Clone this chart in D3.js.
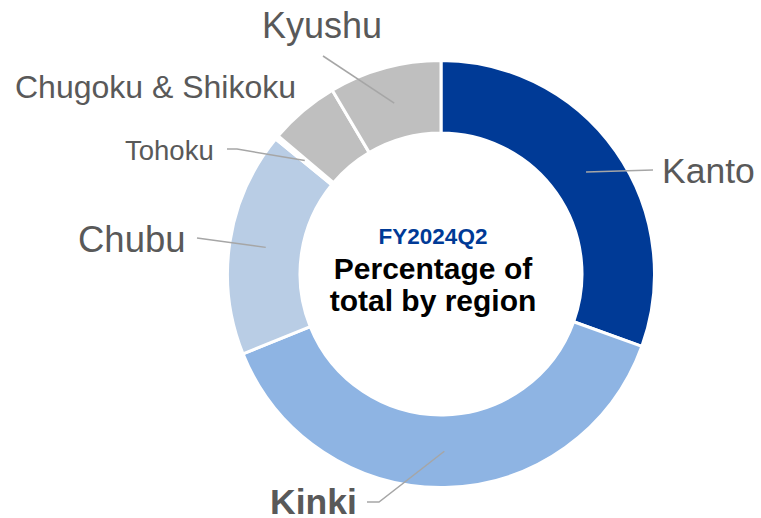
<!DOCTYPE html>
<html>
<head>
<meta charset="utf-8">
<script src="https://cdn.jsdelivr.net/npm/d3@7"></script>
<style>
  html, body { margin: 0; padding: 0; background: #fff; }
  #box1 { width: 761px; height: 518px; }
  text { font-family: Arial, "Liberation Sans", sans-serif; }
</style>
</head>
<body>
<div id="box1"><svg id="box1_svg"></svg></div>
<script>
"use strict";

// data (share of total, %), clockwise from 12 o'clock
const regions = ['Kanto', 'Kinki', 'Chubu', 'Tohoku', 'Chugoku & Shikoku', 'Kyushu'];
const shares = [30.5, 38.4, 17.0, 0.3, 5.3, 8.5];
const title_lines = ['FY2024Q2', 'Percentage of', 'total by region'];

// styles
const colors = ['#003a96', '#8eb4e3', '#b9cde5', '#ffffff', '#bfbfbf', '#bfbfbf'];

// label layout: text position plus elbow points of the leader line
// (the leader always ends on the slice centroid)
const label_layout = {
  'Kanto':             { x: 662, y: 183, size: 35.5, weight: 'normal', bend: [[653, 170]] },
  'Kinki':             { x: 270, y: 514, size: 35.5, weight: 'bold',   bend: [[367, 502], [379, 502]] },
  'Chubu':             { x: 78,  y: 252, size: 36.5, weight: 'normal', bend: [[197, 238]] },
  'Tohoku':            { x: 125, y: 160, size: 27.5, weight: 'normal', bend: [[227, 149], [237, 149]] },
  'Chugoku & Shikoku': { x: 15,  y: 98,  size: 32,   weight: 'normal', bend: null },
  'Kyushu':            { x: 262, y: 38,  size: 36,   weight: 'normal', bend: [[323, 56]] }
};

const p = {
  svg_id: 'box1_svg',
  width: 761,
  height: 518,
  cx: 441,
  cy: 274,
  r_outer: 213.5,
  r_inner: 141,
  label_color: '#595959',
  line_color: '#a6a6a6',
  title_color: '#003a96'
};

const render = () => {
  const svg = d3.select('#' + p.svg_id)
    .attr('width', p.width)
    .attr('height', p.height);

  const g = svg.append('g')
    .attr('transform', `translate(${p.cx},${p.cy})`);

  const pie = d3.pie().sort(null).value(d => d.value);
  const arcs = pie(regions.map((r, i) => ({ name: r, value: shares[i], color: colors[i] })));

  const arc = d3.arc().innerRadius(p.r_inner).outerRadius(p.r_outer);

  g.selectAll('path.slice')
    .data(arcs)
    .join('path')
    .attr('class', 'slice')
    .attr('d', arc)
    .attr('fill', d => d.data.color)
    .attr('stroke', '#fff')
    .attr('stroke-width', 3)
    .attr('stroke-linejoin', 'miter');

  // leader lines
  arcs.forEach(d => {
    const lab = label_layout[d.data.name];
    if (!lab.bend) return;
    const c = arc.centroid(d);
    const pts = lab.bend.concat([[c[0] + p.cx, c[1] + p.cy]]);
    svg.append('path')
      .attr('d', d3.line()(pts))
      .attr('fill', 'none')
      .attr('stroke', p.line_color)
      .attr('stroke-width', 1.5);
  });

  // labels
  arcs.forEach(d => {
    const lab = label_layout[d.data.name];
    svg.append('text')
      .text(d.data.name)
      .attr('x', lab.x)
      .attr('y', lab.y)
      .attr('fill', p.label_color)
      .attr('font-size', lab.size)
      .attr('font-weight', lab.weight);
  });

  // center title
  const title_y = [244, 279, 311];
  const title_size = [22.5, 30, 30];
  title_lines.forEach((t, i) => {
    svg.append('text')
      .text(t)
      .attr('x', 433)
      .attr('y', title_y[i])
      .attr('text-anchor', 'middle')
      .attr('fill', i == 0 ? p.title_color : '#000')
      .attr('font-size', title_size[i])
      .attr('font-weight', 'bold');
  });
};

render();
</script>
</body>
</html>
